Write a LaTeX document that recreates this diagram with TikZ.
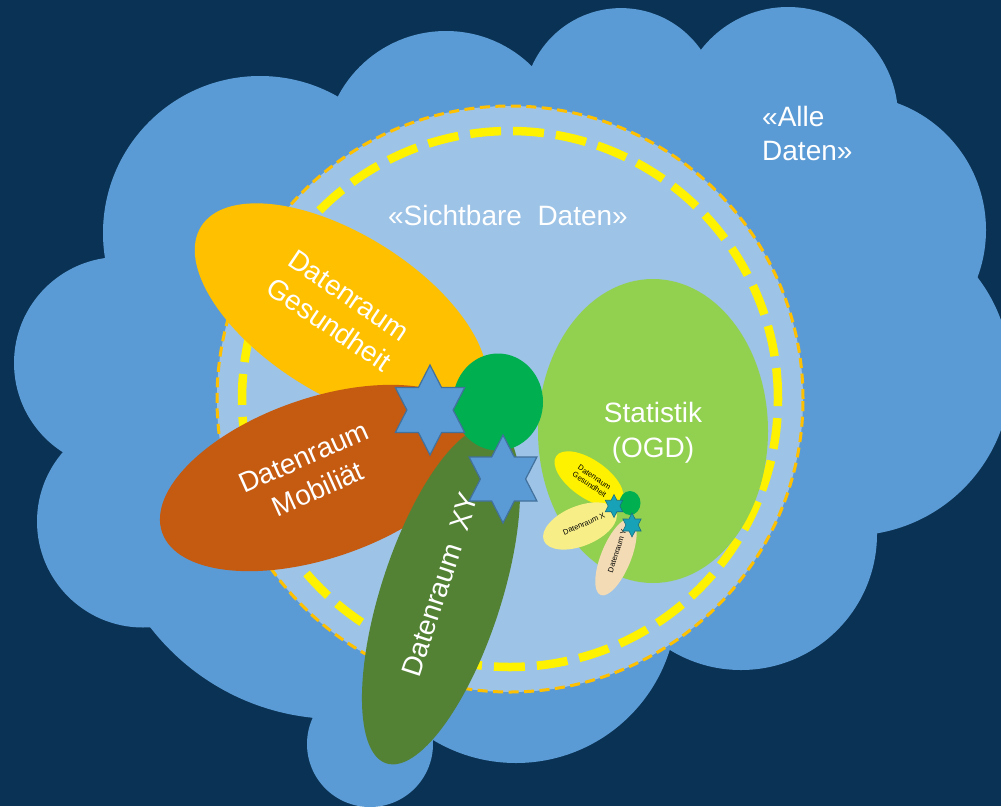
\documentclass[tikz,border=0pt]{standalone}
\usepackage{fontspec}
\setmainfont{Liberation Sans}
\usetikzlibrary{shapes.geometric}
\definecolor{bgnavy}{HTML}{0A3254}
\definecolor{cloudblue}{HTML}{5B9BD5}
\definecolor{lightblue}{HTML}{9DC3E6}
\definecolor{gold}{HTML}{FFC000}
\definecolor{rust}{HTML}{C55A11}
\definecolor{olive}{HTML}{548235}
\definecolor{brightgreen}{HTML}{00B050}
\definecolor{lime}{HTML}{92D050}
\definecolor{starborder}{HTML}{41719C}
\definecolor{paleyellow}{HTML}{F7EE88}
\definecolor{beige}{HTML}{F3DCB5}
\definecolor{tealstar}{HTML}{17A2B8}
\definecolor{tealborder}{HTML}{1B6E80}
\begin{document}
\begin{tikzpicture}[x=1pt,y=-1pt,
  blob/.style={ellipse, inner sep=0pt, outer sep=0pt},
  bigtext/.style={text=white, font=\fontsize{28}{35}\selectfont, align=center, inner sep=0pt},
  smalltext/.style={text=black, font=\fontsize{7.6}{8.8}\selectfont, align=center, inner sep=0pt},
  hexstar/.style={star, star points=6, star point ratio=1.732, inner sep=0pt, fill=cloudblue, draw=starborder, line width=1.2pt},
  ministar/.style={star, star points=6, star point ratio=1.732, inner sep=0pt, fill=tealstar, draw=tealborder, line width=0.6pt}]
\useasboundingbox (0,0) rectangle (1001,806);
\fill[bgnavy] (0,0) rectangle (1001,806);
\clip (0,0) rectangle (1001,806);
% cloud "Alle Daten": union of arcs
\foreach \cx/\cy/\r in {260/233/157, 446/153/122, 621/105.5/97.4, 788/117/110, 851/230/135, 850/375/160.6, 741/534/136, 516/602/161, 370/744/63, 337/483/236, 143/521.5/106, 120/363/106}
  \fill[cloudblue] (\cx,\cy) circle[radius=\r pt];
\fill[cloudblue] (105,258) -- (338,97) -- (532,66) -- (701,50) -- (897,103) -- (977,277) -- (877,533) -- (670,650) -- (433,740) -- (313,718) -- (150,627) -- (63,452) -- cycle;
\node[text=white, font=\fontsize{28}{34}\selectfont, align=left, inner sep=0pt, anchor=north west] (alle) at (762,106) {«Alle\\Daten»};
% visible data circle
\node[circle, minimum size=586pt, inner sep=0pt, fill=lightblue, draw=gold, line width=3pt, dash pattern=on 10pt off 5.5pt] (sicht) at (510,399) {};
\node[circle, minimum size=536pt, inner sep=0pt, draw=yellow, line width=8.5pt, dash pattern=on 31pt off 12pt] (gelb) at (510,399) {};
\node[bigtext] (sichttext) at (508,215) {«Sichtbare\ \ Daten»};
% Statistik
\node[blob, fill=lime, minimum width=230pt, minimum height=304pt] (stat) at (653,431) {};
\node[bigtext] (stattext) at (653,433) {Statistik\\(OGD)};
% data spaces
\node[blob, fill=gold, minimum width=330pt, minimum height=160pt, rotate=-32] (ges) at (341,314) {};
\node[bigtext, rotate=-34] (gestext) at (339,310) {Datenraum\\Gesundheit};
\node[blob, fill=rust, minimum width=334pt, minimum height=160pt, rotate=19] (mob) at (320,478) {};
\node[bigtext, rotate=24] (mobtext) at (311,473) {Datenraum\\Mobiliät};
\node[blob, fill=olive, minimum width=354pt, minimum height=120pt, rotate=72] (xy) at (441,595) {};
\node[bigtext, rotate=72] (xytext) at (440,585) {Datenraum\ \ XY};
\node[blob, fill=brightgreen, minimum width=90pt, minimum height=97pt] (kreis) at (498,402) {};
\node[hexstar, minimum size=90pt, xscale=0.89] (stern1) at (430,410) {};
\node[hexstar, minimum size=88pt, xscale=0.89] (stern2) at (503,479) {};
% small copy inside Statistik
\node[blob, fill=yellow, minimum width=80pt, minimum height=38pt, rotate=-35] (sges) at (589,479) {};
\node[smalltext, rotate=-34] (sgestext) at (592,481) {Datenraum\\Gesundheit};
\node[blob, fill=paleyellow, minimum width=78pt, minimum height=40pt, rotate=22] (sx) at (580,526) {};
\node[smalltext, rotate=23] (sxtext) at (584,524) {Datenraum X};
\node[blob, fill=beige, minimum width=82pt, minimum height=30pt, rotate=68] (sy) at (616,557) {};
\node[smalltext, rotate=72] (sytext) at (617,551) {Datenraum Y};
\node[blob, fill=brightgreen, minimum width=21pt, minimum height=24pt] (skreis) at (630,503) {};
\node[ministar, minimum size=23pt, xscale=0.88] (sstern1) at (614,506) {};
\node[ministar, minimum size=24pt, xscale=0.88] (sstern2) at (632,525) {};
\end{tikzpicture}
\end{document}
